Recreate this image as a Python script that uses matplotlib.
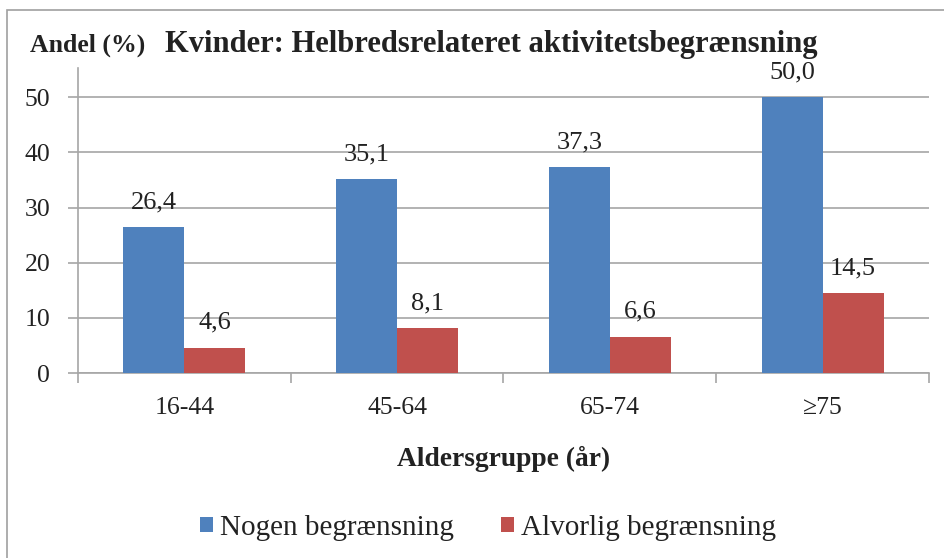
import matplotlib
matplotlib.use("Agg")
import matplotlib.pyplot as plt
import numpy as np
from matplotlib.patches import Rectangle

categories = ["16-44", "45-64", "65-74", "≥75"]
nogen = [26.4, 35.1, 37.3, 50.0]
alvorlig = [4.6, 8.1, 6.6, 14.5]
series_names = ["Nogen begrænsning", "Alvorlig begrænsning"]
yticks = [0, 10, 20, 30, 40, 50]

BLUE = "#4F81BD"
RED = "#C0504D"
GRID = "#A6A6A6"
TXT = "#222222"
SERIF = ["Liberation Serif", "DejaVu Serif"]

W, H = 945, 558
fig = plt.figure(figsize=(W / 100, H / 100), dpi=100)

# outer border
fig.add_artist(Rectangle((7 / W, -0.1), 1.2, 1 - 10 / H + 0.1, transform=fig.transFigure,
                         fill=False, edgecolor="#A0A0A0", linewidth=1.2))

ax_l, ax_r, ax_b, ax_t = 78, 929, 373, 68
ax = fig.add_axes([ax_l / W, 1 - ax_b / H, (ax_r - ax_l) / W, (ax_b - ax_t) / H])

x = np.arange(len(categories))
bw = 0.287
b1 = ax.bar(x - bw / 2, nogen, bw, color=BLUE, zorder=3, label=series_names[0])
b2 = ax.bar(x + bw / 2, alvorlig, bw, color=RED, zorder=3, label=series_names[1])

for bars, vals in ((b1, nogen), (b2, alvorlig)):
    for rect, v in zip(bars, vals):
        ax.annotate(f"{v:.1f}".replace(".", ","), (rect.get_x() + rect.get_width() / 2, v),
                    xytext=(0, 13.7), textcoords="offset points", ha="center", va="baseline",
                    fontsize=19, family=SERIF, color=TXT)

ax.set_xlim(-0.5, len(categories) - 0.5)
ax.set_ylim(0, 55.3)
ax.set_yticks(yticks)
ax.set_yticklabels([str(t) for t in yticks], family=SERIF, fontsize=18.5, color=TXT)
ax.yaxis.grid(True, color=GRID, linewidth=1.2, zorder=0)
ax.set_axisbelow(True)

ax.set_xticks(x)
ax.set_xticklabels(categories, family=SERIF, fontsize=18.5, color=TXT)
ax.set_xticks(np.arange(len(categories) + 1) - 0.5, minor=True)
ax.tick_params(axis="x", which="major", length=0, pad=17)
ax.tick_params(axis="x", which="minor", length=7, color=GRID, width=1.2)
ax.tick_params(axis="y", length=7, color=GRID, width=1.2, pad=13)

for s in ("top", "right"):
    ax.spines[s].set_visible(False)
for s in ("left", "bottom"):
    ax.spines[s].set_color(GRID)
    ax.spines[s].set_linewidth(1.2)

ax.set_xlabel("Aldersgruppe (år)", family=SERIF, fontweight="bold", fontsize=19.8, color=TXT)
ax.xaxis.set_label_coords(0.5, (ax_b - 446) / (ax_b - ax_t))

fig.text(30 / W, 1 - 52 / H, "Andel (%)", family=SERIF, fontweight="bold", fontsize=18.5,
         color=TXT, va="baseline", ha="left")
fig.text(165 / W, 1 - 52 / H, "Kvinder: Helbredsrelateret aktivitetsbegrænsning",
         family=SERIF, fontweight="bold", fontsize=22, color=TXT, va="baseline", ha="left")

leg = fig.legend(handles=[b1, b2], loc="center", bbox_to_anchor=(488 / W, 1 - 528 / H),
                 ncol=2, frameon=False, prop={"family": SERIF, "size": 21},
                 handlelength=0.45, handleheight=0.45, handletextpad=0.24, columnspacing=1.59,
                 borderpad=0, borderaxespad=0)
for t in leg.get_texts():
    t.set_color(TXT)

fig.savefig("out.png", dpi=100)
